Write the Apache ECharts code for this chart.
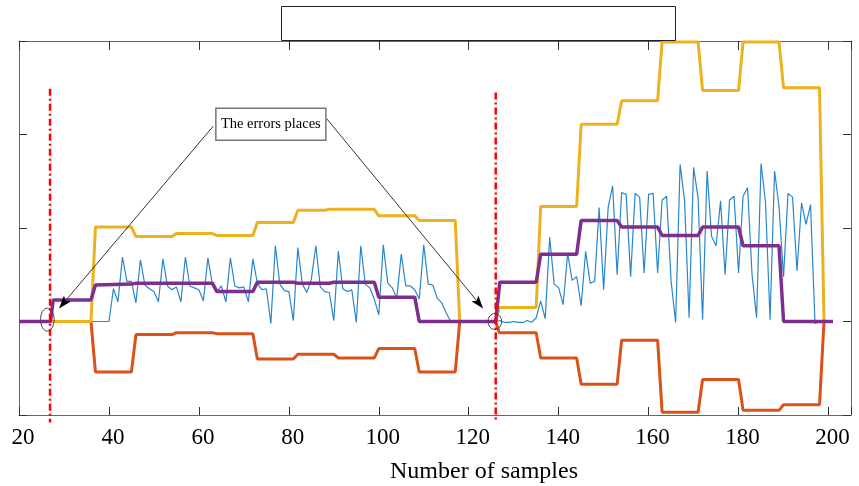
<!DOCTYPE html>
<html>
<head>
<meta charset="utf-8">
<script src="https://cdn.jsdelivr.net/npm/echarts@6/dist/echarts.min.js"></script>
<style>
  html, body { margin: 0; padding: 0; background: #fff; }
  #main { width: 859px; height: 486px; }
</style>
</head>
<body>
<div id="main"></div>
<script>
// sample index of the first value in blueVals
var sampleStart = 20;
var xTicks = [20, 40, 60, 80, 100, 120, 140, 160, 180, 200];

// measured signal, one value per sample (20..201)
var blueVals = [
  0, 0, 0, 0, 0, 0, 0, 0, 0, 0,
  0, 0, 0, 0, 0, 0, 0, 0, 0, 0,
  0, 0.35, 0.21, 0.69, 0.43, 0.43, 0.20, 0.66, 0.39, 0.35,
  0.32, 0.21, 0.67, 0.38, 0.34, 0.37, 0.21, 0.69, 0.38, 0.36,
  0.34, 0.22, 0.68, 0.40, 0.32, 0.38, 0.21, 0.68, 0.38, 0.36,
  0.37, 0.21, 0.67, 0.41, 0.34, 0.35, -0.02, 0.81, 0.40, 0.33,
  0.32, 0.01, 0.79, 0.40, 0.31, 0.45, 0.81, 0.37, 0.32, 0.31,
  0.01, 0.75, 0.35, 0.32, 0.34, -0.01, 0.81, 0.40, 0.36, 0.24,
  0.07, 0.82, 0.41, 0.36, 0.25, 0.72, 0.38, 0.38, 0.34, 0.24,
  0.82, 0.40, 0.39, 0.25, 0.20, 0.09, 0, 0, 0, 0,
  0, 0, 0, 0, 0, 0, 0, 0.01, -0.01, -0.01,
  0, -0.01, -0.01, 0.01, -0.01, 0.04, 0.22, 0.03, 0.90, 0.40,
  0.36, 0.18, 0.73, 0.44, 0.48, 0.17, 0.75, 0.41, 0.43, 1.22,
  0.34, 1.22, 1.45, 0.50, 1.38, 1.36, 0.48, 1.37, 1.33, 0.52,
  1.36, 1.37, 0.52, 1.30, 1.34, 0.43, -0.01, 1.68, 1.29, 0.04,
  1.65, 1.32, 0.02, 1.61, 0.91, 0.81, 1.29, 0.50, 1.30, 1.34,
  0.52, 1.34, 1.43, 0.50, 0.04, 1.69, 1.27, 0.02, 1.61, 1.23,
  0.48, 1.37, 1.33, 0.54, 1.27, 1.04, 1.25, -0.02, 0, 0,
  0, 0
];

// step curves, as [sample, value] break points
var upperPts = [[20,0],[36,0],[37,1.01],[45,1.01],[46,0.91],[54,0.91],[55,0.94],[63,0.94],[64,0.92],[72,0.92],
  [73,1.06],[81,1.06],[82,1.19],[88,1.19],[89,1.20],[99,1.20],[100,1.13],[108,1.13],[109,1.08],[117,1.08],
  [118,0],[126,0],[126.8,0.15],[135,0.15],[136,1.23],[144,1.23],[145,2.11],[153,2.11],[154,2.36],[162,2.36],
  [163,2.99],[171,2.99],[172,2.47],[180,2.47],[181,2.99],[189,2.99],[190,2.50],[198,2.50],[199,0],[201,0]];
var lowerPts = [[20,0],[36,0],[37,-0.54],[45,-0.54],[46,-0.14],[54,-0.14],[55,-0.12],[63,-0.12],[64,-0.13],[72,-0.13],
  [73,-0.40],[81,-0.40],[82,-0.35],[90,-0.35],[91,-0.39],[99,-0.39],[100,-0.29],[108,-0.29],[109,-0.54],[117,-0.54],
  [118,0],[126,0],[126.8,-0.12],[135,-0.12],[136,-0.39],[144,-0.39],[145,-0.67],[153,-0.67],[154,-0.20],[162,-0.20],
  [163,-0.97],[171,-0.97],[172,-0.62],[180,-0.62],[181,-0.95],[189,-0.95],[190,-0.89],[198,-0.89],[199,0],[201,0]];
var midPts = [[20,0],[27,0],[27.6,0.23],[36,0.23],[37,0.39],[45,0.40],[46,0.41],[63,0.41],[64,0.32],[72,0.32],
  [73,0.42],[81,0.42],[82,0.41],[89,0.41],[90,0.42],[99,0.42],[100,0.26],[108,0.26],[109,0],[126,0],
  [126.9,0.42],[135,0.42],[136,0.72],[144,0.72],[145,1.08],[153,1.08],[154,1.01],[162,1.01],[163,0.92],[171,0.92],
  [172,1.01],[180,1.01],[181,0.81],[189,0.81],[190,0],[201,0]];

// fault instants (red dash-dot lines)
var faultX = [26.9, 126];
var faultTop = [2.49, 2.45];
var faultBottom = -1.08;

// annotation, in data units
var noteText = 'The errors places';
var noteCenter = [76, 2.11];
var noteFrom = [[63.2, 2.09], [88.4, 2.17]];
var noteTo = [[28.9, 0.14], [123.2, 0.14]];
var circleAt = [[26.3, 0.02], [125.8, 0]];

var blueData = blueVals.map(function (v, i) { return [sampleStart + i, v]; });

var serif = "'Liberation Serif', 'Times New Roman', serif";
var frame = '#666';

var chart = echarts.init(document.getElementById('main'));

var faultSeries = faultX.map(function (x, i) {
  return {
    type: 'line',
    data: [[x, faultTop[i]], [x, faultBottom]],
    showSymbol: false,
    clip: false,
    z: 10,
    silent: true,
    lineStyle: { color: '#ff0000', width: 2.5, type: [7, 3, 2, 3] }
  };
});

function lineSeries(data, color, width, z) {
  return {
    type: 'line',
    data: data,
    showSymbol: false,
    z: z,
    silent: true,
    lineStyle: { color: color, width: width }
  };
}

var option = {
  animation: false,
  grid: { left: 19, right: 8, top: 41, bottom: 71 },
  xAxis: [{
    type: 'value',
    min: 20,
    max: 205,
    interval: 20,
    axisLine: { onZero: false, lineStyle: { color: frame, width: 1 } },
    axisTick: { inside: true, length: 8, lineStyle: { color: '#333' } },
    axisLabel: {
      color: '#000',
      fontFamily: serif,
      fontSize: 23,
      margin: 11,
      padding: [0, 0, 0, 8],
      formatter: function (v) { return xTicks.indexOf(v) >= 0 ? String(v) : ''; }
    },
    splitLine: { show: false }
  }, {
    type: 'value',
    position: 'top',
    min: 20,
    max: 205,
    interval: 20,
    axisLine: { onZero: false, lineStyle: { color: frame, width: 1 } },
    axisTick: { inside: true, length: 9, lineStyle: { color: '#333' } },
    axisLabel: { show: false },
    splitLine: { show: false }
  }],
  yAxis: [{
    type: 'value',
    min: -1,
    max: 3,
    interval: 1,
    axisLine: { show: true, onZero: false, lineStyle: { color: frame, width: 1 } },
    axisTick: { show: true, inside: true, length: 8, lineStyle: { color: '#333' } },
    axisLabel: { show: false },
    splitLine: { show: false }
  }, {
    type: 'value',
    position: 'right',
    min: -1,
    max: 3,
    interval: 1,
    axisLine: { show: true, onZero: false, lineStyle: { color: frame, width: 1 } },
    axisTick: { show: true, inside: true, length: 8, lineStyle: { color: '#333' } },
    axisLabel: { show: false },
    splitLine: { show: false }
  }],
  series: [
    lineSeries(lowerPts, '#D95319', 3, 2),
    lineSeries(blueData, '#2a86cc', 1.2, 3),
    lineSeries(upperPts, '#EDB120', 3, 4),
    lineSeries(midPts, '#7E2F8E', 3.5, 5)
  ].concat(faultSeries)
};

chart.setOption(option);

function px(p) { return chart.convertToPixel({ gridIndex: 0 }, p); }

function arrow(from, to) {
  var a = px(from), b = px(to);
  var dx = b[0] - a[0], dy = b[1] - a[1];
  var L = Math.sqrt(dx * dx + dy * dy), ux = dx / L, uy = dy / L;
  var len = 13, hw = 4.5;
  var bx = b[0] - ux * len, by = b[1] - uy * len;
  return [{
    type: 'line', z: 20,
    shape: { x1: a[0], y1: a[1], x2: bx + ux * 3, y2: by + uy * 3 },
    style: { stroke: '#333', lineWidth: 1 }
  }, {
    type: 'polygon', z: 21,
    shape: { points: [[b[0], b[1]], [bx - uy * hw, by + ux * hw], [bx + ux * 3, by + uy * 3], [bx + uy * hw, by - ux * hw]] },
    style: { fill: '#000' }
  }];
}

var c = px(noteCenter);
var graphics = [{
  // empty legend frame above the axes
  type: 'rect', z: 30,
  shape: { x: 281.5, y: 6.5, width: 394, height: 34 },
  style: { fill: '#fff', stroke: '#222', lineWidth: 1 }
}, {
  type: 'rect', z: 22,
  shape: { x: c[0] - 55, y: c[1] - 16, width: 110, height: 32 },
  style: { fill: '#fff', stroke: '#777', lineWidth: 1.5 }
}, {
  type: 'text', z: 23,
  x: c[0], y: c[1],
  style: { text: noteText, fill: '#000', font: '14.5px ' + serif, align: 'center', verticalAlign: 'middle' }
}, {
  type: 'text', z: 23,
  x: 484, y: 472,
  style: { text: 'Number of samples', fill: '#000', font: '24px ' + serif, align: 'center', verticalAlign: 'middle' }
}];

noteFrom.forEach(function (f, i) { graphics = graphics.concat(arrow(f, noteTo[i])); });

circleAt.forEach(function (p, i) {
  var q = px(p);
  graphics.push({
    type: 'ellipse', z: 24,
    shape: { cx: q[0], cy: q[1], rx: 6.8, ry: i === 0 ? 11.5 : 8 },
    style: { fill: 'none', stroke: '#444', lineWidth: 1 }
  });
});

chart.setOption({ graphic: graphics });
</script>
</body>
</html>
